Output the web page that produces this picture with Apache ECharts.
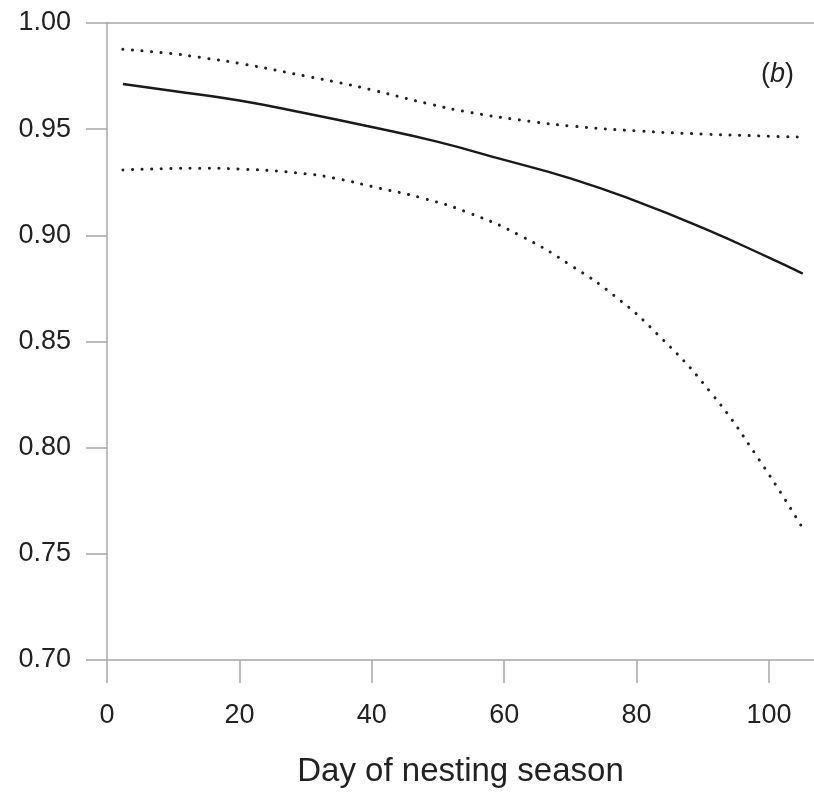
<!DOCTYPE html>
<html>
<head>
<meta charset="utf-8">
<script src="https://cdn.jsdelivr.net/npm/echarts@6/dist/echarts.min.js"></script>
<style>
html,body{margin:0;padding:0;background:#fff;}
#main{width:814px;height:796px;}
</style>
</head>
<body>
<div id="main"></div>
<script>
// Day of nesting season (x) for each curve
const fitDays   = [2.4, 10, 20, 30, 40, 50, 60, 70, 80, 90, 100, 105.1];
const fitValues = [0.9713, 0.968, 0.9635, 0.9575, 0.951, 0.944, 0.9355, 0.9268, 0.916, 0.9035, 0.8895, 0.882];

const upperDays   = [2.4, 10, 14, 20, 30, 35.2, 40, 48.8, 55, 63.9, 70, 80, 90, 100, 105.1];
const upperValues = [0.9876, 0.9855, 0.9838, 0.981, 0.975, 0.9718, 0.9685, 0.9618, 0.9578, 0.9537, 0.9515, 0.9492, 0.9477, 0.9467, 0.9463];

const lowerDays   = [2.4, 10, 14, 20, 30, 35.2, 40, 47.8, 54.8, 62.9, 70.4, 76.5, 83, 91.1, 98.6, 105.1];
const lowerValues = [0.9308, 0.9315, 0.9316, 0.9312, 0.929, 0.9264, 0.923, 0.9174, 0.9104, 0.8991, 0.8852, 0.8719, 0.8539, 0.8264, 0.7939, 0.762];

const xTicks = [0, 20, 40, 60, 80, 100];
const yTicks = [0.70, 0.75, 0.80, 0.85, 0.90, 0.95, 1.00];

const xName = 'Day of nesting season';

const pair = (xs, ys) => xs.map((x, i) => [x, ys[i]]);

const axisGrey = '#a8a8a8';
const textCol = '#222';
const fontFam = '"Liberation Sans", Arial, Helvetica, sans-serif';

const chart = echarts.init(document.getElementById('main'), null, {renderer: 'canvas'});
chart.setOption({
  backgroundColor: '#fff',
  animation: false,
  title: {
    text: '{p|(}{i|b}{p|)}',
    left: 756,
    top: 56,
    textStyle: {
      fontWeight: 'normal',
      rich: {
        p: {fontSize: 27, color: textCol, fontFamily: fontFam, fontWeight: 'normal'},
        i: {fontSize: 27, color: textCol, fontFamily: fontFam, fontStyle: 'italic', fontWeight: 'normal'}
      }
    }
  },
  grid: {left: 107, top: 23, right: 0, bottom: 136, containLabel: false},
  xAxis: [{
    type: 'value',
    min: 0,
    max: 106.8,
    position: 'bottom',
    name: xName,
    nameLocation: 'middle',
    nameGap: 95,
    nameTextStyle: {fontSize: 33, color: textCol, fontFamily: fontFam},
    axisLine: {show: true, onZero: false, lineStyle: {color: axisGrey, width: 1.5}},
    axisTick: {show: true, length: 23, customValues: xTicks, lineStyle: {color: axisGrey, width: 1.5}},
    axisLabel: {show: true, customValues: xTicks, margin: 42, fontSize: 27, color: textCol, fontFamily: fontFam},
    splitLine: {show: false}
  }, {
    type: 'value',
    min: 0,
    max: 106.8,
    position: 'top',
    axisLine: {show: true, onZero: false, lineStyle: {color: axisGrey, width: 1.5}},
    axisTick: {show: false},
    axisLabel: {show: false},
    splitLine: {show: false}
  }],
  yAxis: {
    type: 'value',
    min: 0.70,
    max: 1.00,
    interval: 0.05,
    axisLine: {show: true, onZero: false, lineStyle: {color: axisGrey, width: 1.5}},
    axisTick: {show: true, length: 21, customValues: yTicks, lineStyle: {color: axisGrey, width: 1.5}},
    axisLabel: {
      show: true, customValues: yTicks, margin: 36, fontSize: 27, color: textCol, fontFamily: fontFam,
      formatter: v => v.toFixed(2)
    },
    splitLine: {show: false}
  },
  series: [
    {
      type: 'line', name: 'fit', data: pair(fitDays, fitValues),
      smooth: 0.5, showSymbol: false, symbol: 'none',
      lineStyle: {color: '#1a1a1a', width: 2.4}
    },
    {
      type: 'line', name: 'upper', data: pair(upperDays, upperValues),
      smooth: 0.5, showSymbol: false, symbol: 'none',
      lineStyle: {color: '#222', width: 3, type: [0.1, 9.5], cap: 'round'}
    },
    {
      type: 'line', name: 'lower', data: pair(lowerDays, lowerValues),
      smooth: 0.5, showSymbol: false, symbol: 'none',
      lineStyle: {color: '#222', width: 3, type: [0.1, 9.5], cap: 'round'}
    }
  ]
});
</script>
</body>
</html>
